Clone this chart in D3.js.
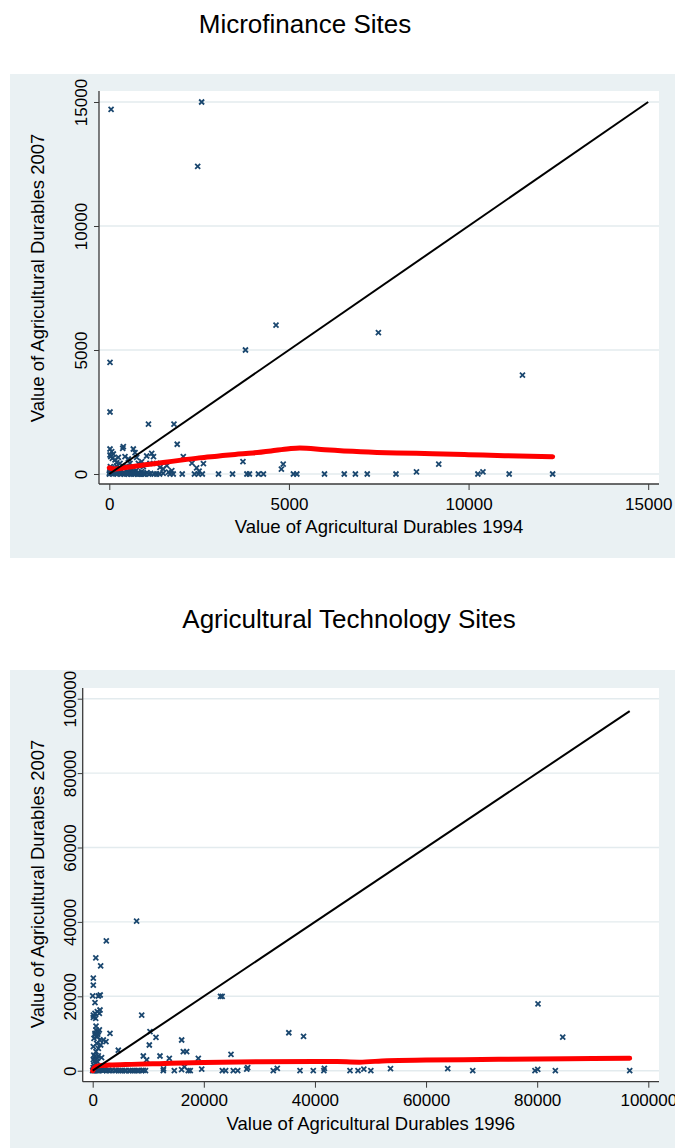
<!DOCTYPE html>
<html>
<head>
<meta charset="utf-8">
<script src="https://cdn.jsdelivr.net/npm/d3@7"></script>
<style>
  html, body { margin: 0; padding: 0; background: #ffffff; }
  svg { display: block; }
  text { font-family: "Liberation Sans", Arial, Helvetica, sans-serif; fill: #000; }
</style>
</head>
<body>
<script>
// ---- Microfinance sites: value of agricultural durables 1994 vs 2007 ----
const mfX = [50, 2570, 2460, 4640, 3790, 20, 20, 1090, 1800, 1890, 7490, 11500,
  3720, 4790, 4840, 2060, 2300, 2430, 2620, 2500, 9170, 8550, 10400,
  1180, 1230, 1040, 1130, 1320, 1410, 1500, 1600, 1740,
  1320, 1690, 1780, 2030, 2370, 2480, 2590, 3040, 3430, 3830, 3900, 4150, 4290,
  5125, 5220, 5990, 6540, 6850, 7180, 7980, 10260, 11130, 12340,
  20, 66, 20, 112, 40, 85, 159, 252, 205, 298, 391, 373, 437, 530, 577, 669, 716, 762, 809, 484, 623, 902, 948,
  30, 60, 100, 150, 200, 250, 300, 350, 400, 450, 500, 550, 600, 650, 700, 750, 800, 850, 900, 950, 1000, 1050, 1100, 1150, 1250, 1400, 1500, 1650,
  0, 10, 20, 40, 80, 120, 180, 220, 280, 320, 380, 420, 480, 520, 580, 620, 680, 720, 780, 820, 880, 960];
const mfY = [14700, 15000, 12400, 6000, 5000, 4500, 2500, 2010, 2010, 1200, 5700, 3990,
  500, 200, 400, 700, 440, 250, 420, 120, 400, 90, 90,
  835, 698, 726, 431, 431, 270, 202, 335, 133,
  0, 0, 0, 0, 0, 0, 0, 0, 0, 0, 0, 0, 0,
  0, 0, 0, 0, 0, 0, 0, 0, 0, 0,
  1008, 901, 766, 806, 700, 632, 565, 672, 457, 430, 1102, 1035, 699, 605, 430, 1008, 860, 672, 430, 296, 229, 497, 296,
  300, 250, 200, 150, 320, 100, 220, 150, 60, 300, 120, 40, 180, 80, 30, 150, 50, 10, 100, 20, 0, 60, 0, 20, 0, 0, 30, 80,
  0, 50, 120, 30, 10, 60, 20, 0, 40, 0, 10, 0, 20, 0, 10, 0, 0, 20, 0, 0, 0, 0];
// lowess smooth
const mfFitX = [0, 150, 500, 1000, 1500, 2000, 2500, 3000, 3500, 4000, 4500, 5000, 5300, 6000, 7000, 8000, 9000, 10000, 11000, 12340];
const mfFitY = [250, 200, 270, 370, 460, 560, 650, 720, 790, 850, 930, 1020, 1050, 980, 900, 850, 820, 780, 740, 700];
const mfTicks = [0, 5000, 10000, 15000];
const mfDiag = [0, 15000];

// ---- Agricultural technology sites: 1996 vs 2007 ----
const atX = [7900, 2450, 560, 1430, 110, 110, 0, 1020, 1350, 410, 8820, 23000, 23300, 35300, 37950, 80150, 84600,
  3110, 2390, 1910, 4610,
  10310, 11390, 10190, 9110, 9710, 12110, 13790, 16010, 16310, 16910, 19010, 24890,
  12700, 12750, 14690, 16000, 16500, 17200, 17560, 19620, 23330, 23930, 25300, 26100, 27720, 27900, 32500, 33220,
  37310, 39700, 41600, 41700, 46310, 47750, 48800, 50060, 53600, 63900, 68400, 79600, 80100, 83270, 96650,
  114, 414, 834, 1194, 1314, 114, 534, 594, 1014, 414, 834, 234, 1314, 714, 114, 1014, 1434, 594, 354, 834, 114,
  300, 600, 200, 900, 1500, 100, 400, 700, 1200, 2000, 2800, 3500, 4200, 5000, 5800, 6500, 7200, 8000, 8800, 9500,
  1800, 2500, 3000, 4000, 4600, 5400, 6000, 6800, 7600, 8300, 9100, 0, 50, 150, 250, 350, 500, 650, 800, 1000, 1100, 1300, 1600, 2200,
  1000, 800, 1600, 200, 1200, 600, 400, 900];
const atY = [40200, 34900, 30300, 28150, 24900, 23000, 20100, 20080, 20350, 18300, 14950, 20000, 20000, 10200, 9200, 17950, 9000,
  10050, 7800, 8250, 5500,
  10490, 8970, 6910, 3950, 2880, 3950, 3330, 8250, 5120, 5120, 3330, 4400,
  0, 500, 0, 300, 1000, 0, 0, 400, 0, 0, 0, 0, 400, 800, 0, 600,
  0, 0, 0, 600, 0, 0, 400, 0, 550, 550, 0, 0, 380, 0, 0,
  14970, 15420, 15870, 15420, 16320, 14350, 14080, 10940, 10490, 10050, 9150, 8700, 8250, 7360, 6460, 6010, 6910, 5120, 3770, 3330, 3000,
  2500, 2000, 1500, 1200, 900, 800, 500, 300, 200, 150, 100, 80, 60, 50, 40, 30, 20, 10, 0, 0,
  0, 0, 50, 0, 0, 0, 0, 0, 0, 0, 100, 0, 100, 300, 50, 1000, 0, 200, 50, 0, 500, 100, 300, 250,
  4000, 2500, 3500, 4200, 11000, 12000, 9600, 9800];
const atFitX = [0, 300, 1000, 3000, 7000, 12000, 20000, 30000, 40000, 44000, 48000, 53000, 60000, 70000, 80000, 90000, 96650];
const atFitY = [0, 800, 1300, 1500, 1700, 1900, 2200, 2400, 2500, 2450, 2300, 2700, 2850, 3000, 3150, 3250, 3330];
const atTicks = [0, 20000, 40000, 60000, 80000, 100000];
const atDiag = [0, 96650];

const xTitle1 = "Value of Agricultural Durables 1994";
const xTitle2 = "Value of Agricultural Durables 1996";
const yTitle = "Value of Agricultural Durables 2007";

const W = 675, H = 1148;
const BG = "#eaf1f3", GRID = "#e3ebee", AXIS = "#3a3a3a", MARK = "#1a476f";

const svg = d3.select("body").append("svg").attr("width", W).attr("height", H);

function panel(cfg) {
  const g = svg.append("g");
  // outer graph region
  g.append("rect").attr("x", cfg.bg[0]).attr("y", cfg.bg[1])
    .attr("width", cfg.bg[2]).attr("height", cfg.bg[3]).attr("fill", BG);
  // plot region
  const pr = cfg.plot;
  g.append("rect").attr("x", pr.left).attr("y", pr.top)
    .attr("width", pr.right - pr.left).attr("height", pr.bottom - pr.top).attr("fill", "#fff");

  const x = d3.scaleLinear().domain(cfg.xDomain).range(cfg.xRange);
  const y = d3.scaleLinear().domain(cfg.yDomain).range(cfg.yRange);

  // horizontal grid
  g.append("g").selectAll("line").data(cfg.ticks).join("line")
    .attr("x1", pr.left).attr("x2", pr.right)
    .attr("y1", d => y(d)).attr("y2", d => y(d))
    .attr("stroke", GRID).attr("stroke-width", 1.4);

  // scatter markers (x symbols)
  const pts = cfg.xs.map((v, i) => [v, cfg.ys[i]]);
  g.append("g").selectAll("path").data(pts).join("path")
    .attr("transform", d => `translate(${x(d[0])},${y(d[1])})`)
    .attr("d", "M-2.5,-2.5L2.5,2.5M-2.5,2.5L2.5,-2.5")
    .attr("stroke", MARK).attr("stroke-width", 1.8).attr("fill", "none");

  // lowess fit
  const fit = cfg.fitX.map((v, i) => [v, cfg.fitY[i]]);
  g.append("path").datum(fit)
    .attr("d", d3.line().x(d => x(d[0])).y(d => y(d[1])).curve(d3.curveMonotoneX))
    .attr("fill", "none").attr("stroke", "#ff0000").attr("stroke-width", 5)
    .attr("stroke-linecap", "round").attr("stroke-linejoin", "round");

  // 45-degree line
  g.append("line")
    .attr("x1", x(cfg.diag[0])).attr("y1", y(cfg.diag[0]))
    .attr("x2", x(cfg.diag[1])).attr("y2", y(cfg.diag[1]))
    .attr("stroke", "#000").attr("stroke-width", 2);

  // axes
  const ax = g.append("g").attr("transform", `translate(0,${pr.bottom})`)
    .call(d3.axisBottom(x).tickValues(cfg.ticks).tickFormat(d3.format("d")).tickSize(6).tickSizeOuter(0));
  ax.select(".domain").attr("d", `M${pr.left},0H${pr.right}`);
  ax.selectAll(".tick line").attr("stroke", AXIS);
  ax.selectAll("text").attr("y", cfg.xLabelDy).attr("dy", 0)
    .style("font-size", "17px").style("font-family", "Liberation Sans, Arial, sans-serif");

  const ay = g.append("g").attr("transform", `translate(${pr.left},0)`)
    .call(d3.axisLeft(y).tickValues(cfg.ticks).tickFormat(d3.format("d")).tickSize(5).tickSizeOuter(0));
  ay.select(".domain").attr("d", `M0,${pr.top}V${pr.bottom}`);
  ay.selectAll(".tick line").attr("stroke", AXIS);
  ay.selectAll("text").attr("transform", "rotate(-90)")
    .attr("x", 0).attr("y", -cfg.yLabelGap).attr("dy", 0)
    .attr("text-anchor", "middle")
    .style("font-size", "17px").style("font-family", "Liberation Sans, Arial, sans-serif");
  [ax, ay].forEach(a => a.select(".domain").attr("stroke", AXIS).attr("stroke-width", 1.3));

  // titles
  g.append("text").attr("x", cfg.titlePos[0]).attr("y", cfg.titlePos[1])
    .attr("text-anchor", "middle").style("font-size", "26px").text(cfg.title);
  g.append("text").attr("x", (pr.left + pr.right) / 2).attr("y", cfg.xTitleY)
    .attr("text-anchor", "middle").style("font-size", "18.5px").text(cfg.xTitle);
  g.append("text").attr("transform", `translate(${cfg.yTitlePos[0]},${cfg.yTitlePos[1]}) rotate(-90)`)
    .attr("text-anchor", "middle").style("font-size", "18.5px").text(yTitle);
}

panel({
  title: "Microfinance Sites", titlePos: [305, 33],
  bg: [10, 74, 665, 484],
  plot: { left: 99, right: 659, top: 91, bottom: 484 },
  xDomain: [0, 15000], xRange: [109.3, 648.2],
  yDomain: [0, 15000], yRange: [474, 102],
  ticks: mfTicks, xs: mfX, ys: mfY, fitX: mfFitX, fitY: mfFitY, diag: mfDiag,
  xLabelDy: 26, yLabelGap: 11.7, xTitleY: 533, xTitle: xTitle1, yTitlePos: [44, 278]
});

panel({
  title: "Agricultural Technology Sites", titlePos: [349, 628],
  bg: [10, 670, 665, 478],
  plot: { left: 82.7, right: 659, top: 688, bottom: 1081.7 },
  xDomain: [0, 100000], xRange: [92.7, 648.3],
  yDomain: [0, 100000], yRange: [1070.7, 698.7],
  ticks: atTicks, xs: atX, ys: atY, fitX: atFitX, fitY: atFitY, diag: atDiag,
  xLabelDy: 24, yLabelGap: 7, xTitleY: 1130, xTitle: xTitle2, yTitlePos: [44, 884]
});
</script>
</body>
</html>
